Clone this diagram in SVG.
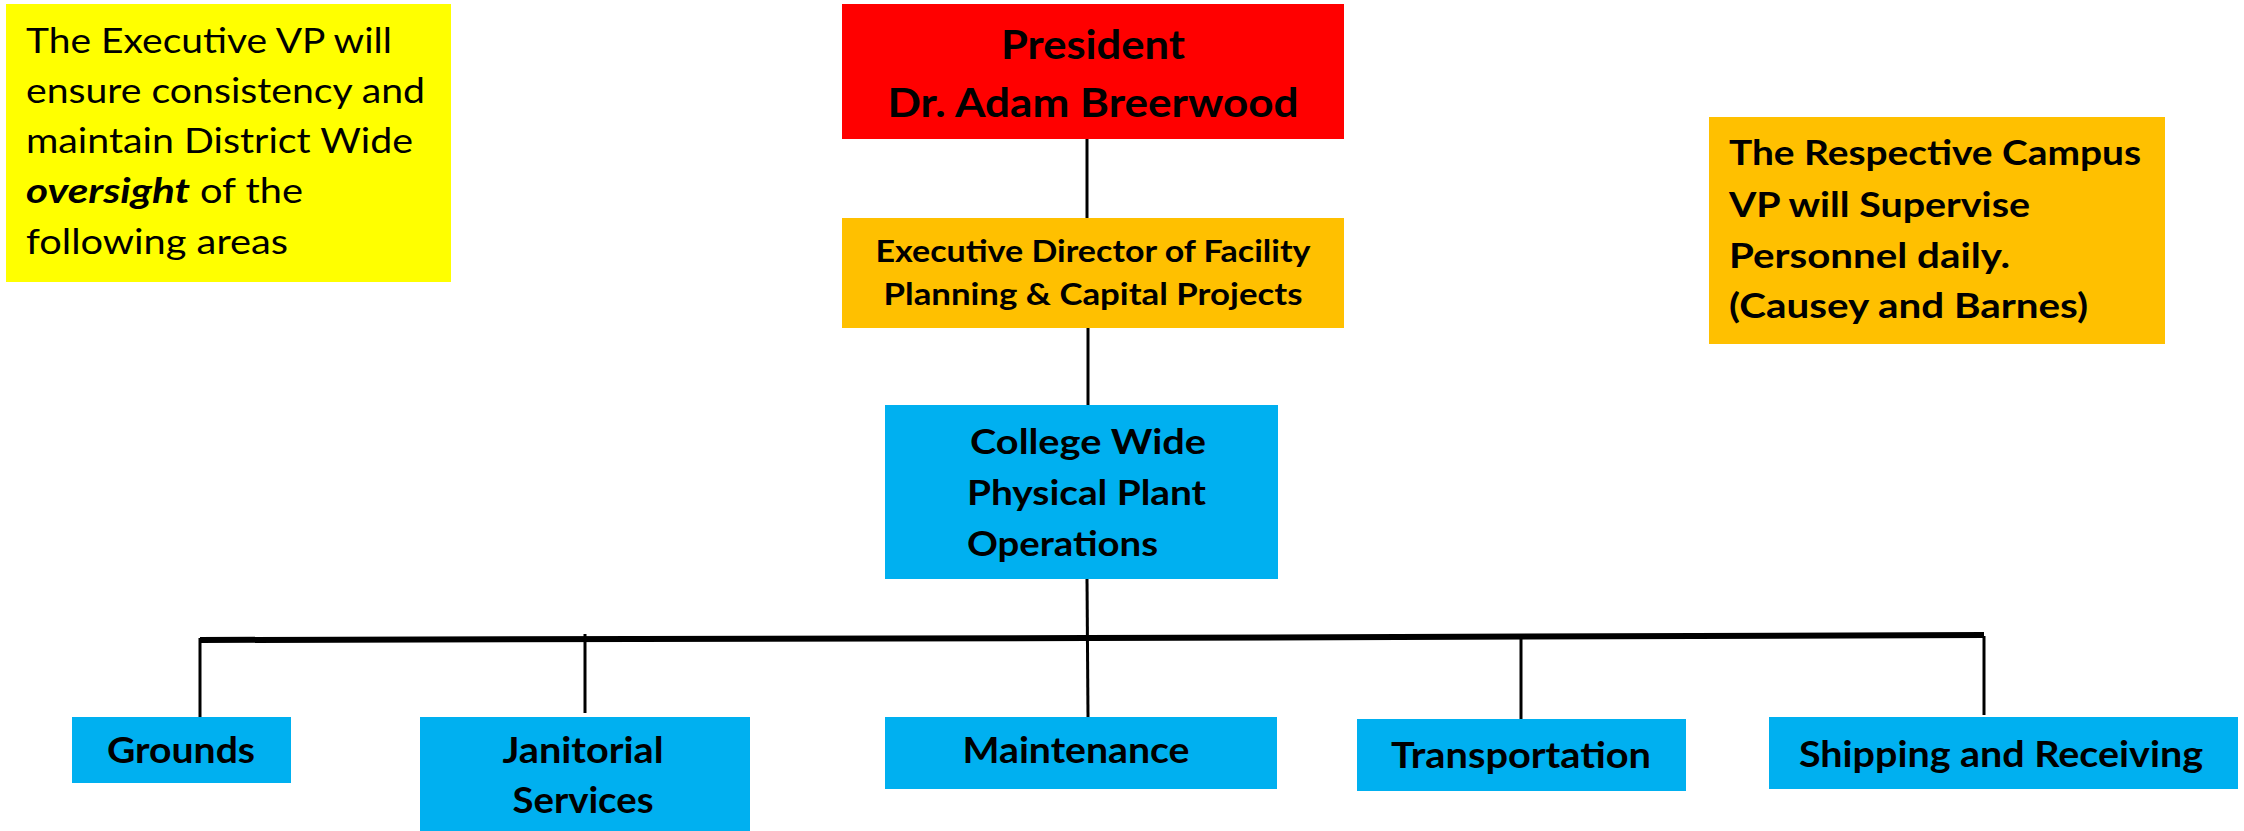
<svg xmlns="http://www.w3.org/2000/svg" width="2244" height="831" viewBox="0 0 2244 831">
<style>
text{font-family:Lato,"Liberation Sans",sans-serif;fill:#000;}
.b{font-weight:bold;}
.c{text-anchor:middle;}
.ln{stroke:#000;stroke-width:3;fill:none;}
.bar{stroke:#000;stroke-width:6;fill:none;}
.yel{fill:#FFFF00;}
.red{fill:#FF0000;}
.org{fill:#FFC000;}
.blu{fill:#00B0F0;}
</style>
<g id="connectors">
<line class="ln" x1="1087" y1="139" x2="1087" y2="218"/>
<line class="ln" x1="1088" y1="328" x2="1088" y2="405"/>
<line class="ln" x1="1087" y1="579" x2="1088" y2="717"/>
<polyline class="bar" points="200,640 1087,638 1984,635"/>
<line class="ln" x1="200" y1="638" x2="200" y2="717"/>
<line class="ln" x1="585" y1="634" x2="585" y2="713"/>
<line class="ln" x1="1521" y1="637" x2="1521" y2="728"/>
<line class="ln" x1="1984" y1="636" x2="1984" y2="715"/>
</g>
<g id="note-executive-vp">
<rect class="yel" x="6" y="4" width="445" height="278"/>
<text x="26" y="53" font-size="35" textLength="366" lengthAdjust="spacingAndGlyphs">The Executive VP will</text>
<text x="26" y="103" font-size="35" textLength="399" lengthAdjust="spacingAndGlyphs">ensure consistency and</text>
<text x="26" y="153" font-size="35" textLength="387" lengthAdjust="spacingAndGlyphs">maintain District Wide</text>
<text x="26" y="203" font-size="35" font-weight="bold" font-style="italic" textLength="164" lengthAdjust="spacingAndGlyphs">oversight</text>
<text x="200" y="203" font-size="35" textLength="103" lengthAdjust="spacingAndGlyphs">of the</text>
<text x="26" y="254" font-size="35" textLength="262" lengthAdjust="spacingAndGlyphs">following areas</text>
</g>
<g id="president">
<rect class="red" x="842" y="4" width="502" height="135"/>
<text class="b c" x="1093" y="59" font-size="41" textLength="184" lengthAdjust="spacingAndGlyphs">President</text>
<text class="b c" x="1093" y="117" font-size="41" textLength="411" lengthAdjust="spacingAndGlyphs">Dr. Adam Breerwood</text>
</g>
<g id="executive-director">
<rect class="org" x="842" y="218" width="502" height="110"/>
<text class="b c" x="1093" y="262" font-size="31" textLength="435" lengthAdjust="spacingAndGlyphs">Executive Director of Facility</text>
<text class="b c" x="1093" y="305" font-size="31" textLength="419" lengthAdjust="spacingAndGlyphs">Planning &amp; Capital Projects</text>
</g>
<g id="note-campus-vp">
<rect class="org" x="1709" y="117" width="456" height="227"/>
<text class="b" x="1729" y="165" font-size="34" textLength="412" lengthAdjust="spacingAndGlyphs">The Respective Campus</text>
<text class="b" x="1729" y="217" font-size="34" textLength="301" lengthAdjust="spacingAndGlyphs">VP will Supervise</text>
<text class="b" x="1729" y="268" font-size="34" textLength="281" lengthAdjust="spacingAndGlyphs">Personnel daily.</text>
<text class="b" x="1729" y="318" font-size="34" textLength="359" lengthAdjust="spacingAndGlyphs">(Causey and Barnes)</text>
</g>
<g id="physical-plant">
<rect class="blu" x="885" y="405" width="393" height="174"/>
<text class="b" x="970" y="454" font-size="35" textLength="236" lengthAdjust="spacingAndGlyphs">College  Wide</text>
<text class="b" x="967" y="505" font-size="35" textLength="239" lengthAdjust="spacingAndGlyphs">Physical Plant</text>
<text class="b" x="967" y="556" font-size="35" textLength="191" lengthAdjust="spacingAndGlyphs">Operations</text>
</g>
<g id="grounds">
<rect class="blu" x="72" y="717" width="219" height="66"/>
<text class="b c" x="181" y="763" font-size="37" textLength="148" lengthAdjust="spacingAndGlyphs">Grounds</text>
</g>
<g id="janitorial">
<rect class="blu" x="420" y="717" width="330" height="114"/>
<text class="b c" x="583" y="763" font-size="37" textLength="161" lengthAdjust="spacingAndGlyphs">Janitorial</text>
<text class="b c" x="583" y="813" font-size="37" textLength="141" lengthAdjust="spacingAndGlyphs">Services</text>
</g>
<g id="maintenance">
<rect class="blu" x="885" y="717" width="392" height="72"/>
<text class="b c" x="1076" y="763" font-size="37" textLength="227" lengthAdjust="spacingAndGlyphs">Maintenance</text>
</g>
<g id="transportation">
<rect class="blu" x="1357" y="719" width="329" height="72"/>
<text class="b c" x="1521" y="768" font-size="37" textLength="260" lengthAdjust="spacingAndGlyphs">Transportation</text>
</g>
<g id="shipping-receiving">
<rect class="blu" x="1769" y="717" width="469" height="72"/>
<text class="b c" x="2001" y="767" font-size="37" textLength="404" lengthAdjust="spacingAndGlyphs">Shipping and Receiving</text>
</g>
</svg>
